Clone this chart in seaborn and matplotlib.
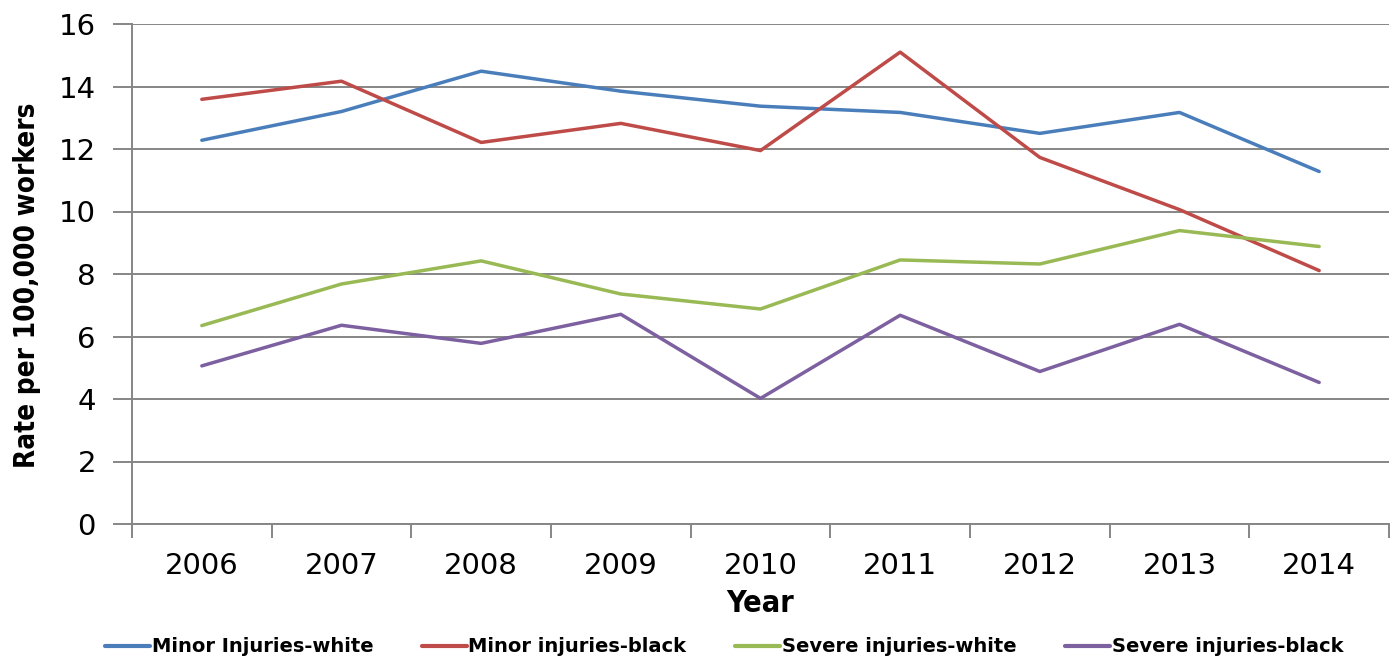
import matplotlib
matplotlib.use("Agg")
import matplotlib.pyplot as plt
import numpy as np
import pandas as pd
import seaborn as sns

years = ["2006", "2007", "2008", "2009", "2010", "2011", "2012", "2013", "2014"]
minor_white = [12.28, 13.20, 14.49, 13.85, 13.37, 13.17, 12.50, 13.17, 11.28]
minor_black = [13.59, 14.17, 12.21, 12.82, 11.95, 15.10, 11.73, 10.06, 8.11]
severe_white = [6.35, 7.68, 8.42, 7.36, 6.88, 8.45, 8.32, 9.39, 8.88]
severe_black = [5.06, 6.36, 5.78, 6.71, 4.02, 6.68, 4.88, 6.39, 4.53]

series_names = ["Minor Injuries-white", "Minor injuries-black",
                "Severe injuries-white", "Severe injuries-black"]
series_values = [minor_white, minor_black, severe_white, severe_black]
colors = ["#4A7EBB", "#BE4B48", "#98B954", "#7D60A0"]

rows = []
for name, vals in zip(series_names, series_values):
    for i, (yr, v) in enumerate(zip(years, vals)):
        rows.append({"pos": i, "year": yr, "rate": v, "series": name})
df = pd.DataFrame(rows)

sns.set_theme(style="white")
plt.rcParams["font.family"] = ["DejaVu Sans"]
plt.rcParams["text.color"] = "black"
plt.rcParams["xtick.color"] = "black"
plt.rcParams["ytick.color"] = "black"

fig = plt.figure(figsize=(13.95, 6.58), dpi=100)
ax = fig.add_axes([132 / 1395, 1 - 524 / 658, (1389 - 132) / 1395, (524 - 24) / 658])

sns.lineplot(data=df, x="pos", y="rate", hue="series", hue_order=series_names,
             palette=colors, linewidth=2.5, ax=ax, legend=False)

grid_c = "#868686"
ax.set_ylim(0, 16)
ax.set_xlim(-0.5, 8.5)
ax.set_yticks(np.arange(0, 17, 2))
ax.set_yticklabels([str(v) for v in range(0, 17, 2)], fontsize=21)
ax.yaxis.grid(True, color=grid_c, linewidth=1.4)
ax.set_axisbelow(True)

# category boundaries get tick marks, category centres get the labels
ax.set_xticks(np.arange(-0.5, 9.0, 1.0))
ax.set_xticklabels([])
ax.set_xticks(np.arange(9), minor=True)
ax.set_xticklabels(years, minor=True, fontsize=21)
ax.tick_params(axis="x", which="major", bottom=True, length=10, width=1.4,
               color=grid_c, direction="out")
ax.tick_params(axis="x", which="minor", bottom=True, length=0, pad=20, labelcolor="black")
ax.tick_params(axis="y", left=True, length=14, width=1.4, color=grid_c,
               direction="out", pad=12, labelcolor="black")

for side in ["top", "right"]:
    ax.spines[side].set_visible(False)
for side in ["left", "bottom"]:
    ax.spines[side].set_color(grid_c)
    ax.spines[side].set_linewidth(1.4)

ax.set_xlabel("Year", fontsize=22, fontweight="bold", fontstretch="condensed",
              labelpad=7, color="black")
ax.set_ylabel("Rate per 100,000 workers", fontsize=20, fontweight="bold",
              fontstretch="condensed", color="black")
ax.yaxis.set_label_coords(-0.072, 0.478)

handles = [plt.Line2D([], [], color=c, linewidth=3) for c in colors]
fig.legend(handles, series_names, loc="center", bbox_to_anchor=(0.519, 1 - 647 / 658),
           ncol=4, frameon=False, handlelength=2.3, handletextpad=0.1,
           columnspacing=2.5, prop={"weight": "semibold", "size": 14})

fig.savefig("out.png", dpi=100)
